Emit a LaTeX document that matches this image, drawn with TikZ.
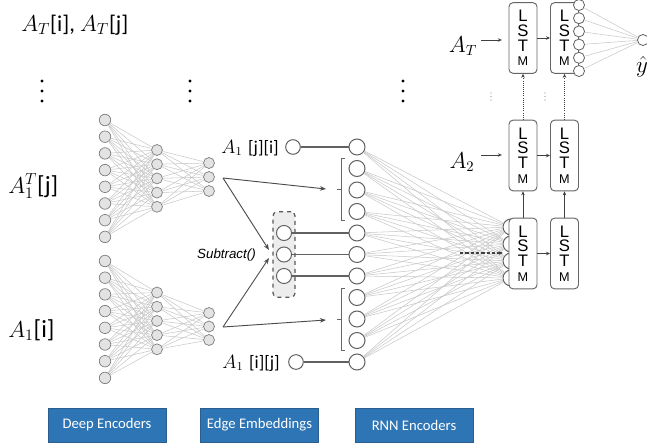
\documentclass[tikz,border=0pt]{standalone}
\usepackage{fontspec}
\newfontfamily\calfont{Carlito}
\newfontfamily\arifont{Liberation Sans}
\usetikzlibrary{arrows.meta}
\definecolor{boxblue}{HTML}{2E75B6}
\definecolor{boxedge}{HTML}{2B5E8E}
\definecolor{wirecol}{HTML}{C8C8C8}
\newcommand\lstmlabel{L\\S\\T\\{\fontsize{9.5}{11}\selectfont M}}
\begin{document}
\begin{tikzpicture}[x=0.75pt,y=-0.75pt,
  enc/.style={circle,draw=black!50,fill=black!11,line width=0.55pt,inner sep=0pt,minimum size=#1},
  enc/.default=8.6pt,
  emb/.style={circle,draw=black!62,fill=white,line width=0.75pt,inner sep=0pt,minimum size=#1},
  emb/.default=12pt,
  wire/.style={draw=wirecol,line width=0.4pt},
  link/.style={draw=black!62,line width=0.9pt},
  lstm/.style={draw=black!60,fill=white,rounded corners=3pt,line width=0.7pt,
    minimum width=21pt,minimum height=53pt,inner sep=0pt,align=center,
    font=\arifont\fontsize{12.5}{11}\selectfont},
  tag/.style={fill=boxblue,draw=boxedge,text=white,font=\calfont\fontsize{11}{13}\selectfont,
    minimum width=88.5pt,minimum height=25.5pt,inner sep=0pt},
  arr/.style={-{Stealth[length=4.5pt,width=3.4pt]},draw=black!70,line width=0.7pt},
  sarr/.style={-{Stealth[length=3pt,width=2.6pt]},draw=black!75,line width=0.6pt},
  big/.style={font=\fontsize{17}{20}\selectfont,inner sep=0pt},
  side/.style={font=\fontsize{18.5}{21}\selectfont,inner sep=0pt},
  dot/.style={circle,fill=black,inner sep=0pt,minimum size=2.4pt},
  sdot/.style={circle,fill=black!45,inner sep=0pt,minimum size=1pt}]
\useasboundingbox (0,0) rectangle (647,447);

% ---- deep encoders ----
\foreach \i in {1,...,8} {
  \node[enc] (ta\i) at (105,{120+16.7*(\i-1)}) {};
  \node[enc] (ba\i) at (105,{261+16.7*(\i-1)}) {};
}
\foreach \i in {1,...,5} {
  \node[enc=8.2pt] (tb\i) at (157,{150+14.2*(\i-1)}) {};
  \node[enc=8.2pt] (bb\i) at (157,{292.5+14.2*(\i-1)}) {};
}
\foreach \i in {1,...,3} {
  \node[enc=8.2pt] (tc\i) at (209,{163+14*(\i-1)}) {};
  \node[enc=8.2pt] (bc\i) at (209,{313+13.5*(\i-1)}) {};
}
\foreach \s in {t,b} {
  \foreach \i in {1,...,8} \foreach \j in {1,...,5} \draw[wire] (\s a\i) -- (\s b\j);
  \foreach \i in {1,...,5} \foreach \j in {1,...,3} \draw[wire] (\s b\i) -- (\s c\j);
}

% ---- input labels ----
\node[big,anchor=base west] (lat) at (21,31) {$A_T$\calfont[i], $A_T$[j]};
\node[side,anchor=base west] (laj) at (8,193) {$A_1^T$\calfont[j]};
\node[side,anchor=base west] (lai) at (8,337) {$A_1$\calfont[i]};

% ---- vertical ellipses ----
\foreach \x/\n in {42/a,190/b,403/c} \foreach \y/\m in {81/1,91/2,101/3}
  \node[dot] (v\n\m) at (\x,\y) {};
\foreach \x/\n in {491/a,545/b} \foreach \y/\m in {93/1,96.5/2,100/3}
  \node[sdot] (w\n\m) at (\x,\y) {};

% ---- edge embeddings ----
\foreach \k in {0,...,10} \node[emb] (e\k) at (357,{147+21.5*\k}) {};
\node[emb=11pt] (ji) at (293,147) {};
\node[emb=11pt] (ij) at (296,362) {};
\node[anchor=east,inner sep=0pt,font=\fontsize{13.5}{15}\selectfont] (lji) at (279,148) {$A_1$ \calfont[j][i]};
\node[anchor=east,inner sep=0pt,font=\fontsize{13.5}{15}\selectfont] (lij) at (280,363) {$A_1$ \calfont[i][j]};
\draw[link,line width=0.8pt] (ji) -- (e0);
\draw[link,line width=0.8pt] (ij) -- (e10);

\node[draw=black!65,dashed,fill=black!7,rounded corners=3pt,line width=0.9pt,
  minimum width=16.5pt,minimum height=64pt,inner sep=0pt] (sub) at (284,254.5) {};
\foreach \k/\m in {1/4,2/5,3/6} {
  \node[emb=11.3pt] (s\k) at (284,{147+21.5*\m}) {};
  \draw[link] (s\k) -- (e\m);
}
\node[anchor=east,inner sep=0pt,font=\arifont\itshape\fontsize{10}{12}\selectfont] (sublbl) at (256,255) {Subtract()};

% brackets
\draw[draw=black!60,line width=0.7pt] (345,158) -- (341,158) -- (341,220) -- (345,220);
\draw[draw=black!60,line width=0.7pt] (341,189) -- (337,189);
\draw[draw=black!60,line width=0.7pt] (345,288) -- (341,288) -- (341,350) -- (345,350);
\draw[draw=black!60,line width=0.7pt] (341,319) -- (337,319);

\coordinate (tout) at (223,178);
\coordinate (bout) at (223,327);
\coordinate (ubr) at (326,189);
\coordinate (lbr) at (326,320);
\coordinate (sa) at (269,250);
\coordinate (sb) at (269,258);
\draw[arr] (tout) -- (ubr);
\draw[arr] (tout) -- (sa);
\draw[arr] (bout) -- (lbr);
\draw[arr] (bout) -- (sb);

% ---- RNN encoders ----
\foreach \j in {1,...,4} \node[emb] (li\j) at (511,{227+17*(\j-1)}) {};
\foreach \k in {0,...,10} \foreach \j in {1,...,4} \draw[wire] (e\k) -- (li\j);

\node[lstm] (r1c1) at (523,253.5) {\lstmlabel};
\node[lstm] (r1c2) at (564.5,253.5) {\lstmlabel};
\node[lstm] (r2c1) at (523,155.5) {\lstmlabel};
\node[lstm] (r2c2) at (564.5,155.5) {\lstmlabel};
\node[lstm] (r3c1) at (523,38) {\lstmlabel};
\node[lstm] (r3c2) at (564.5,38) {\lstmlabel};

\coordinate (dstart) at (460,253);
\coordinate (dend) at (503,253);
\draw[sarr,dashed,dash pattern=on 2.5pt off 1.5pt,line width=0.8pt] (dstart) -- (dend);

\foreach \r in {1,2,3} \draw[sarr] (r\r c1.east) -- (r\r c2.west);
\foreach \c in {1,2} {
  \draw[sarr] (r1c\c.north) -- (r2c\c.south);
  \draw[sarr,densely dotted] (r2c\c.north) -- (r3c\c.south);
}

\node[big,font=\fontsize{16}{18}\selectfont] (AT) at (463,46) {$A_T$};
\node[big,font=\fontsize{16}{18}\selectfont] (A2) at (462,162) {$A_2$};
\draw[sarr,line width=0.7pt] (481,40) -- ([xshift=-5pt]r3c1.west |- 0,40);
\draw[sarr,line width=0.7pt] (481,155) -- ([xshift=-5pt]r2c1.west |- 0,155);

% output layer
\foreach \i in {1,...,6} \node[emb=8.3pt,line width=0.6pt] (o\i) at (579,{5+13.2*(\i-1)}) {};
\node[emb=8.3pt,line width=0.6pt] (yh) at (643,40) {};
\foreach \i in {1,...,6} \draw[wire] (o\i) -- (yh);
\node[font=\fontsize{16}{18}\selectfont,inner sep=0pt] (ylbl) at (642,67) {$\hat{y}$};

% ---- section tags ----
\node[tag] (g1) at (107,425) {Deep Encoders};
\node[tag] (g2) at (259.5,425) {Edge Embeddings};
\node[tag] (g3) at (414,425) {RNN Encoders};
\end{tikzpicture}
\end{document}
